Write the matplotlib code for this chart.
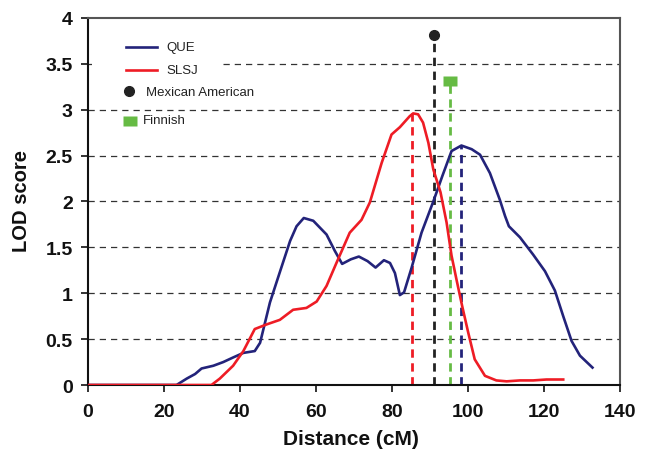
import matplotlib.pyplot as plt
from matplotlib.lines import Line2D
from matplotlib.patches import Rectangle

plt.rcParams['font.family'] = ['Liberation Sans', 'DejaVu Sans']

# QUE curve (navy)
que_x = [0, 10, 20, 23.3, 26, 28.2, 29.9, 33, 35.6, 38.2, 40.9, 43.9, 45.3, 46.6, 47.9,
         50.5, 53.2, 54.9, 56.8, 59.3, 62.8, 65, 66.9, 69.2, 71.3, 73.6, 75.7, 77.9, 79.5,
         80.8, 82.1, 83.2, 85.2, 87.8, 90.9, 93.3, 95.7, 98.3, 101, 103.2, 105.8, 108.4,
         109.8, 110.8, 113.7, 117.2, 120.3, 122.9, 125.1, 127.3, 129.5, 132.8]
que_y = [0, 0, 0, 0.0, 0.07, 0.12, 0.18, 0.21, 0.25, 0.30, 0.35, 0.37, 0.46, 0.68, 0.90,
         1.23, 1.57, 1.73, 1.82, 1.79, 1.64, 1.46, 1.32, 1.37, 1.40, 1.35, 1.28, 1.36, 1.33,
         1.22, 0.98, 1.01, 1.28, 1.66, 2.0, 2.28, 2.55, 2.61, 2.57, 2.51, 2.31, 2.02,
         1.84, 1.73, 1.61, 1.42, 1.24, 1.03, 0.75, 0.48, 0.32, 0.19]

# SLSJ curve (red)
slsj_x = [0, 10, 20, 30, 32.5, 34.7, 38.2, 40.9, 43.9, 47, 50.5, 54, 57.5, 60.2, 62.8,
          65.4, 68.9, 72, 74.2, 77.3, 79.9, 82.1, 84.7, 85.6, 86.9, 88.2, 89.6, 90.9,
          92.8, 94.4, 95.7, 97, 98.5, 100.1, 101.8, 104.5, 107.5, 110.2, 113.7, 117.2,
          120.7, 125.1]
slsj_y = [0, 0, 0, 0, 0, 0.07, 0.21, 0.37, 0.61, 0.66, 0.71, 0.82, 0.84, 0.91, 1.08,
          1.33, 1.66, 1.80, 1.99, 2.42, 2.73, 2.81, 2.93, 2.96, 2.95, 2.86, 2.64, 2.35,
          2.10, 1.77, 1.41, 1.15, 0.86, 0.57, 0.28, 0.10, 0.05, 0.04, 0.05, 0.05,
          0.06, 0.06]

# peak markers
que_peak = (98.3, 2.61)
slsj_peak = (85.2, 2.96)
mexican = (91.1, 3.81)
finnish = (95.4, 3.31)

navy = '#23237a'
red = '#ee1c25'
green = '#66bb44'

fig = plt.figure(figsize=(6.47, 4.52), dpi=100)
ax = fig.add_axes([0.136, 0.146, 0.822, 0.812])

for y in [0.5, 1, 1.5, 2, 2.5, 3, 3.5]:
    ax.axhline(y, color='#333333', lw=0.9, ls=(0, (5, 4)), zorder=1)

ax.plot(que_x, que_y, color=navy, lw=1.9, zorder=3)
ax.plot(slsj_x, slsj_y, color=red, lw=1.9, zorder=3)

ax.plot([slsj_peak[0]] * 2, [0, slsj_peak[1]], color=red, lw=2, ls=(0, (3, 2)), zorder=2)
ax.plot([que_peak[0]] * 2, [0, que_peak[1]], color=navy, lw=2, ls=(0, (3, 2)), zorder=2)
ax.plot([mexican[0]] * 2, [0, mexican[1]], color='#222222', lw=2, ls=(0, (3, 2)), zorder=2)
ax.plot([finnish[0]] * 2, [0, finnish[1]], color=green, lw=2, ls=(0, (3, 2)), zorder=2)
ax.plot(*mexican, marker='o', color='#222222', ms=7, zorder=4)
rect_marker = [(-1.4, -1), (1.4, -1), (1.4, 1), (-1.4, 1), (-1.4, -1)]
ax.plot(*finnish, marker=rect_marker, color=green, ms=9.5, mec='none', zorder=4)

ax.set_xlim(0, 140)
ax.set_ylim(0, 4)
ax.set_xticks(range(0, 141, 20))
ax.set_yticks([0, 0.5, 1, 1.5, 2, 2.5, 3, 3.5, 4])
ax.set_yticklabels(['0', '0.5', '1', '1.5', '2', '2.5', '3', '3.5', '4'])
ax.tick_params(direction='out', length=5, width=1.2, labelsize=14, colors='#111111')
ax.tick_params(axis='x', pad=8)
ax.tick_params(axis='y', pad=6)
for lab in ax.get_xticklabels() + ax.get_yticklabels():
    lab.set_fontweight('bold')
ax.set_xlabel('Distance (cM)', fontsize=15, fontweight='bold', va='center', color='#111111')
ax.set_ylabel('LOD score', fontsize=14.5, fontweight='bold', va='center', color='#111111')
ax.xaxis.set_label_coords(0.495, -0.147)
ax.yaxis.set_label_coords(-0.125, 0.505)

for side in ['left', 'bottom']:
    ax.spines[side].set_linewidth(1.5)
    ax.spines[side].set_color('#111111')
for side in ['top', 'right']:
    ax.spines[side].set_linewidth(1.5)
    ax.spines[side].set_color('#555555')

# legend drawn by hand, in figure pixels
W, H = 647, 452
def fx(px):
    return px / W
def fy(py):
    return 1 - py / H

fig.add_artist(Rectangle((fx(92), fy(82)), fx(128), 45 / H, transform=fig.transFigure,
                         facecolor='white', edgecolor='none', zorder=5))
fig.add_artist(Line2D([fx(126), fx(157)], [fy(47.5)] * 2, color=navy, lw=1.9, zorder=6))
fig.add_artist(Line2D([fx(126), fx(157)], [fy(71)] * 2, color=red, lw=1.9, zorder=6))
fig.add_artist(Line2D([fx(129)], [fy(92)], marker='o', color='#222222', ms=7, zorder=6))
fig.add_artist(Line2D([fx(129.5)], [fy(121.5)], marker=rect_marker, color=green, ms=9.5,
                      mec='none', zorder=6))
leg_fs = 9.5
fig.text(fx(166), fy(47.5), 'QUE', fontsize=leg_fs, va='center', color='#222222', zorder=6)
fig.text(fx(166), fy(71), 'SLSJ', fontsize=leg_fs, va='center', color='#222222', zorder=6)
fig.text(fx(145.5), fy(93), 'Mexican American', fontsize=leg_fs, va='center', color='#222222', zorder=6)
fig.text(fx(143), fy(121.5), 'Finnish', fontsize=leg_fs, va='center', color='#222222', zorder=6)

fig.savefig('out.png', dpi=100)
